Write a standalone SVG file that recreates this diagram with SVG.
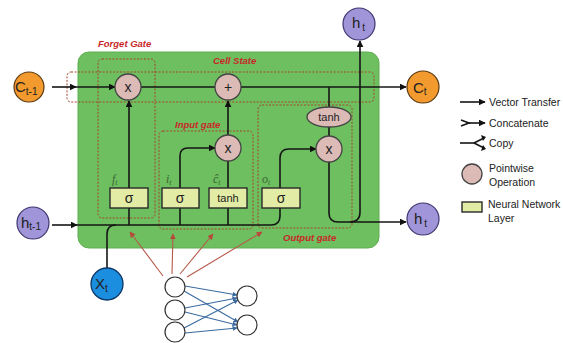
<svg xmlns="http://www.w3.org/2000/svg" width="563" height="343" viewBox="0 0 563 343">
<defs>
<marker id="ab" viewBox="0 0 10 10" refX="9" refY="5" markerWidth="7" markerHeight="7" markerUnits="userSpaceOnUse" orient="auto"><path d="M0,0 L10,5 L0,10 z" fill="#111"/></marker>
<marker id="ar" viewBox="0 0 10 10" refX="9" refY="5" markerWidth="6" markerHeight="6" markerUnits="userSpaceOnUse" orient="auto"><path d="M0,0 L10,5 L0,10 z" fill="#b8483a"/></marker>
<marker id="au" viewBox="0 0 10 10" refX="9" refY="5" markerWidth="5" markerHeight="5" markerUnits="userSpaceOnUse" orient="auto"><path d="M0,0 L10,5 L0,10 z" fill="#3a6aa0"/></marker>
</defs>
<style>
text{font-family:"Liberation Sans",Arial,sans-serif}
.ln{fill:none;stroke:#161616;stroke-width:1.6}
.red{fill:none;stroke:#b8584a;stroke-width:1.1}
.blue{fill:none;stroke:#3a6aa0;stroke-width:1.1}
.dash{fill:none;stroke:#a4472c;stroke-width:1;stroke-dasharray:2 1.5}
.pw{fill:#dcbab6;stroke:#444;stroke-width:1.3}
.nn{fill:#e2eca4;stroke:#2a2a2a;stroke-width:1.4}
.or{fill:#f29a2e;stroke:#5a3a10;stroke-width:1.2}
.pu{fill:#9f95d8;stroke:#3e3670;stroke-width:1.2}
.lab{font-size:9.5px;font-weight:bold;font-style:italic;fill:#c8282a}
.gl{font-family:"Liberation Serif",serif;font-style:italic;font-size:12px;fill:#3a6535}
.lg{font-size:10.5px;fill:#222}
.op{font-size:14px;fill:#222}
.big{font-size:15px;fill:#222}
.sub{font-size:10px;fill:#222}
</style>
<rect width="563" height="343" fill="#ffffff"/>
<g id="cell">
<rect x="78" y="52" width="301" height="196" rx="11" fill="#6dbf5f" stroke="#5eae52" stroke-width="1"/>
</g>
<g id="regions">
<rect class="dash" x="98" y="59" width="57" height="159" rx="4"/>
<rect class="dash" x="67" y="72" width="307" height="30" rx="4"/>
<rect class="dash" x="159" y="131" width="94" height="98" rx="4"/>
<rect class="dash" x="258" y="105" width="94" height="123" rx="4"/>
<text class="lab" x="98" y="47">Forget Gate</text>
<text class="lab" x="213" y="64">Cell State</text>
<text class="lab" x="175" y="128">Input gate</text>
<text class="lab" x="283" y="241">Output gate</text>
</g>
<g id="connectors">
<path class="ln" d="M52,87 H76" marker-end="url(#ab)"/>
<path class="ln" d="M76,87 H115" marker-end="url(#ab)"/>
<path class="ln" d="M141,87 H215"/>
<path class="ln" d="M241,87 H406" marker-end="url(#ab)"/>
<path class="ln" d="M329,87 V107"/>
<path class="ln" d="M329,127 V136"/>
<path class="ln" d="M329,162 V213 Q329,222 338,222 H406" marker-end="url(#ab)"/>
<path class="ln" d="M350,222 Q360,222 360,212 V41" marker-end="url(#ab)"/>
<path class="ln" d="M52,225 H77" marker-end="url(#ab)"/>
<path class="ln" d="M77,225 H271 Q280,225 280,216 V208"/>
<path class="ln" d="M107,268 V234 Q107,225 116,225"/>
<path class="ln" d="M129,225 V208"/>
<path class="ln" d="M129,188 V101" marker-end="url(#ab)"/>
<path class="ln" d="M180,225 V208"/>
<path class="ln" d="M180,188 V156 Q180,148 188,148 H215" marker-end="url(#ab)"/>
<path class="ln" d="M228,225 V208"/>
<path class="ln" d="M228,188 V161"/>
<path class="ln" d="M228,135 V101" marker-end="url(#ab)"/>
<path class="ln" d="M280,188 V158 Q280,149 289,149 H316" marker-end="url(#ab)"/>
<path class="red" d="M163,276 L130,232" marker-end="url(#ar)"/>
<path class="red" d="M172,274 L173,234" marker-end="url(#ar)"/>
<path class="red" d="M180,274 L213,234" marker-end="url(#ar)"/>
<path class="red" d="M187,277 L262,232" marker-end="url(#ar)"/>
<path class="blue" d="M185,286 L237,295" marker-end="url(#au)"/>
<path class="blue" d="M184,291 L238,322" marker-end="url(#au)"/>
<path class="blue" d="M185,308 L237,298" marker-end="url(#au)"/>
<path class="blue" d="M185,312 L237,325" marker-end="url(#au)"/>
<path class="blue" d="M184,328 L238,300" marker-end="url(#au)"/>
<path class="blue" d="M185,333 L237,328" marker-end="url(#au)"/>
</g>
<g id="forget_mul"><circle class="pw" cx="128" cy="87" r="13"/><text class="op" x="128" y="92" text-anchor="middle">x</text></g>
<g id="cell_add"><circle class="pw" cx="228" cy="87" r="13"/><text class="op" x="228" y="92" text-anchor="middle">+</text></g>
<g id="input_mul"><circle class="pw" cx="228" cy="148" r="13"/><text class="op" x="228" y="153" text-anchor="middle">x</text></g>
<g id="output_mul"><circle class="pw" cx="329" cy="149" r="13"/><text class="op" x="329" y="154" text-anchor="middle">x</text></g>
<g id="out_tanh"><ellipse class="pw" cx="329" cy="117" rx="22" ry="10"/><text x="329" y="121" font-size="11" fill="#222" text-anchor="middle">tanh</text></g>
<g id="forget_sigma"><rect class="nn" x="110" y="188" width="38" height="20"/><text class="op" x="129" y="203" text-anchor="middle">σ</text><text class="gl" x="112" y="183">f<tspan font-size="8" dy="2">t</tspan></text></g>
<g id="input_sigma"><rect class="nn" x="162" y="188" width="37" height="20"/><text class="op" x="180" y="203" text-anchor="middle">σ</text><text class="gl" x="166" y="183">i<tspan font-size="8" dy="2">t</tspan></text></g>
<g id="input_tanh"><rect class="nn" x="209" y="188" width="38" height="20"/><text x="228" y="202" font-size="11" fill="#222" text-anchor="middle">tanh</text><text class="gl" x="213" y="183">ĉ<tspan font-size="8" dy="2">t</tspan></text></g>
<g id="output_sigma"><rect class="nn" x="262" y="188" width="38" height="20"/><text class="op" x="281" y="203" text-anchor="middle">σ</text><text class="gl" x="262" y="183">o<tspan font-size="8" dy="2">t</tspan></text></g>
<g id="c_prev"><circle class="or" cx="29" cy="87" r="15"/><text class="big" x="15" y="92" font-size="14">C<tspan class="sub" font-size="10" dy="3">t-1</tspan></text></g>
<g id="c_t"><circle class="or" cx="423" cy="87" r="16"/><text class="big" x="413" y="93">C<tspan class="sub" dy="2">t</tspan></text></g>
<g id="h_top"><circle class="pu" cx="359" cy="24" r="16"/><text class="big" x="352" y="28">h<tspan class="sub" dx="2" dy="3">t</tspan></text></g>
<g id="h_prev"><circle class="pu" cx="33" cy="223" r="16"/><text class="big" x="21" y="228" font-size="14">h<tspan class="sub" font-size="10" dy="2">t-1</tspan></text></g>
<g id="h_out"><circle class="pu" cx="423" cy="219" r="16"/><text class="big" x="414" y="224">h<tspan class="sub" dx="2" dy="3">t</tspan></text></g>
<g id="x_t"><circle cx="107" cy="284" r="16" fill="#1c8ee0" stroke="#0b3766" stroke-width="1.3"/><text class="big" x="95" y="289" font-size="14">X<tspan class="sub" font-size="9" dy="3">t</tspan></text></g>
<g id="nn">
<circle cx="175" cy="287" r="10" fill="#fff" stroke="#333" stroke-width="1.2"/>
<circle cx="175" cy="310" r="10" fill="#fff" stroke="#333" stroke-width="1.2"/>
<circle cx="175" cy="332" r="10" fill="#fff" stroke="#333" stroke-width="1.2"/>
<circle cx="247" cy="296" r="10" fill="#fff" stroke="#333" stroke-width="1.2"/>
<circle cx="247" cy="325" r="10" fill="#fff" stroke="#333" stroke-width="1.2"/>
</g>
<g id="legend">
<path class="ln" d="M460,102 H485" stroke-width="1.4" marker-end="url(#ab)"/>
<text class="lg" x="489" y="106">Vector Transfer</text>
<path class="ln" d="M461,120 L469,123 L461,126" stroke-width="1.3"/>
<path class="ln" d="M466,123 H485" stroke-width="1.4" marker-end="url(#ab)"/>
<text class="lg" x="489" y="127">Concatenate</text>
<path class="ln" d="M460,143 H474" stroke-width="1.4"/>
<path class="ln" d="M474,143 L484,138" stroke-width="1.3"/>
<path class="ln" d="M474,143 L484,148" stroke-width="1.3"/>
<path d="M481,135 L486,137 L483,141 z M481,151 L486,149 L483,145 z" fill="#111"/>
<text class="lg" x="489" y="147">Copy</text>
<circle class="pw" cx="472" cy="174" r="10"/>
<text class="lg" x="489" y="172">Pointwise</text>
<text class="lg" x="489" y="186">Operation</text>
<rect class="nn" x="462" y="202" width="20" height="10" stroke-width="1.2"/>
<text class="lg" x="488" y="208">Neural Network</text>
<text class="lg" x="488" y="222">Layer</text>
</g>
</svg>
